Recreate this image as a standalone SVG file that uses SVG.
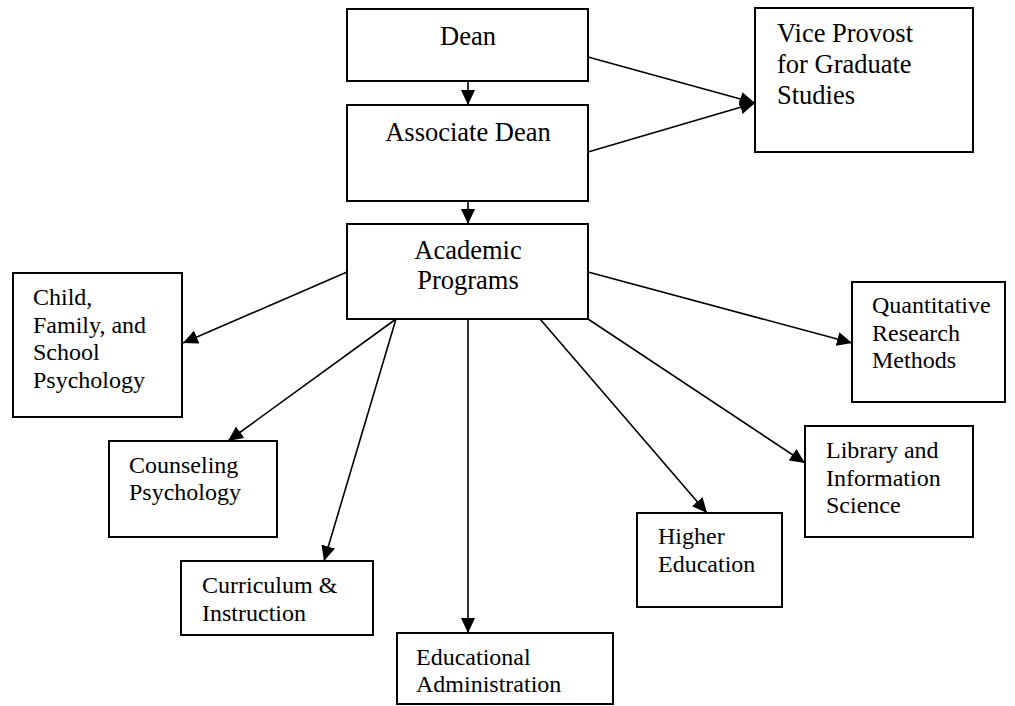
<svg xmlns="http://www.w3.org/2000/svg" width="1015" height="706" viewBox="0 0 1015 706">
<defs>
<marker id="ah" markerUnits="userSpaceOnUse" markerWidth="16" markerHeight="14" refX="15" refY="7" orient="auto">
<path d="M0,0 L15,7 L0,14 z" fill="#000"/>
</marker>
<style>
.box{fill:#fff;stroke:#000;stroke-width:2}
text{font-family:'Liberation Serif','Tinos','DejaVu Serif',serif;fill:#000}
.t{font-size:24px}
.tl{font-size:26.5px}
.c{text-anchor:middle}
.ln{stroke:#000;stroke-width:1.6;fill:none;marker-end:url(#ah)}
</style>
</defs>
<rect width="1015" height="706" fill="#fff"/>
<g id="connectors">
<line class="ln" x1="468" y1="81" x2="468" y2="105"/>
<line class="ln" x1="468" y1="201" x2="468" y2="224"/>
<line class="ln" x1="588" y1="57" x2="755" y2="103"/>
<line class="ln" x1="588" y1="152" x2="755" y2="103"/>
<line class="ln" x1="347" y1="272" x2="183" y2="343"/>
<line class="ln" x1="396" y1="319" x2="228" y2="441"/>
<line class="ln" x1="396" y1="319" x2="324" y2="561"/>
<line class="ln" x1="468" y1="319" x2="468" y2="633"/>
<line class="ln" x1="540" y1="319" x2="707" y2="513"/>
<line class="ln" x1="588" y1="319" x2="805" y2="463"/>
<line class="ln" x1="588" y1="272" x2="852" y2="343"/>
</g>
<g font-family="Liberation Serif, serif">
<g id="dean">
<rect class="box" x="347" y="9" width="241" height="72"/>
<text class="tl c" x="468" y="45">Dean</text>
</g>
<g id="associate-dean">
<rect class="box" x="347" y="105" width="241" height="96"/>
<text class="tl c" x="468" y="141">Associate Dean</text>
</g>
<g id="vice-provost">
<rect class="box" x="755" y="8" width="218" height="144"/>
<text class="tl" x="777" y="42">Vice Provost</text>
<text class="tl" x="777" y="73">for Graduate</text>
<text class="tl" x="777" y="104">Studies</text>
</g>
<g id="academic-programs">
<rect class="box" x="347" y="224" width="241" height="95"/>
<text class="tl c" x="468" y="259">Academic</text>
<text class="tl c" x="468" y="289">Programs</text>
</g>
<g id="child-family-school">
<rect class="box" x="13" y="273" width="169" height="144"/>
<text class="t" x="33" y="305">Child,</text>
<text class="t" x="33" y="333">Family, and</text>
<text class="t" x="33" y="360">School</text>
<text class="t" x="33" y="388">Psychology</text>
</g>
<g id="counseling">
<rect class="box" x="109" y="441" width="168" height="96"/>
<text class="t" x="129" y="473">Counseling</text>
<text class="t" x="129" y="500">Psychology</text>
</g>
<g id="curriculum">
<rect class="box" x="181" y="561" width="192" height="74"/>
<text class="t" x="202" y="593">Curriculum &amp;</text>
<text class="t" x="202" y="621">Instruction</text>
</g>
<g id="educational-admin">
<rect class="box" x="397" y="633" width="216" height="71"/>
<text class="t" x="416" y="665">Educational</text>
<text class="t" x="416" y="692">Administration</text>
</g>
<g id="higher-education">
<rect class="box" x="637" y="513" width="145" height="94"/>
<text class="t" x="658" y="544">Higher</text>
<text class="t" x="658" y="572">Education</text>
</g>
<g id="library">
<rect class="box" x="805" y="426" width="168" height="111"/>
<text class="t" x="826" y="458">Library and</text>
<text class="t" x="826" y="486">Information</text>
<text class="t" x="826" y="513">Science</text>
</g>
<g id="quantitative">
<rect class="box" x="852" y="282" width="153" height="120"/>
<text class="t" x="872" y="313">Quantitative</text>
<text class="t" x="872" y="341">Research</text>
<text class="t" x="872" y="368">Methods</text>
</g>
</g>
</svg>
